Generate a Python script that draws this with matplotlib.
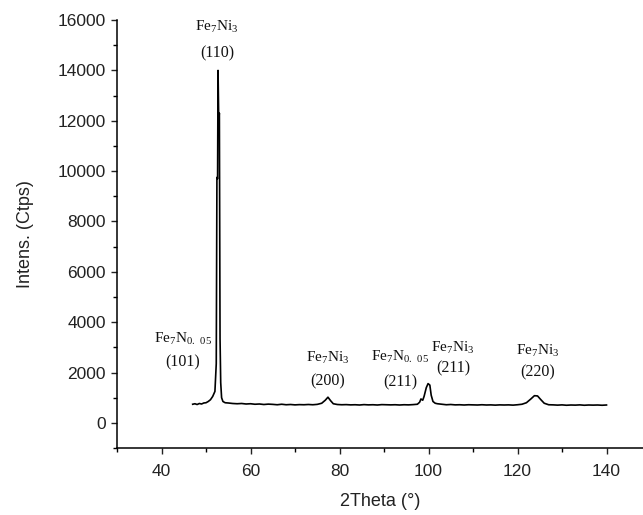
import numpy as np
import matplotlib
matplotlib.use("Agg")
import matplotlib.pyplot as plt
from matplotlib.ticker import MultipleLocator

plt.rcParams['font.family'] = ['Liberation Sans', 'DejaVu Sans']
plt.rcParams['mathtext.default'] = 'regular'

# XRD pattern
two_theta = [47.0, 47.5, 48.0, 48.5, 49.0, 49.5, 50.0, 50.5, 51.0, 51.5, 52.0,
             52.3, 52.45, 52.6, 52.7, 52.85, 53.0, 53.15, 53.3, 53.5, 53.8,
             54.3, 55.0, 56.0, 57.0, 58.0, 59.0, 60.0, 61.0, 62.0, 63.0, 64.0,
             65.0, 66.0, 67.0, 68.0, 69.0, 70.0, 71.0, 72.0, 73.0, 74.0, 75.0,
             76.0, 76.8, 77.4, 78.0, 78.6, 79.5, 80.5, 81.5, 82.5, 83.5, 84.5,
             85.5, 86.5, 87.5, 88.5, 89.5, 90.5, 91.5, 92.5, 93.5, 94.5, 95.5,
             96.5, 97.5, 98.0, 98.3, 98.7, 99.0, 99.5, 99.9, 100.3, 100.6,
             101.0, 101.5, 102.0, 103.0, 104.0, 105.0, 106.0, 107.0, 108.0,
             109.0, 110.0, 111.0, 112.0, 113.0, 114.0, 115.0, 116.0, 117.0,
             118.0, 119.0, 120.0, 121.0, 122.0, 123.0, 123.8, 124.5, 125.2,
             126.0, 127.0, 128.0, 129.0, 130.0, 131.0, 132.0, 133.0, 134.0,
             135.0, 136.0, 137.0, 138.0, 139.0, 140.0]
intens = [740, 760, 730, 770, 750, 790, 800, 850, 920, 1050, 1250,
          2350, 9750, 9700, 14000, 12100, 12300, 3350, 1600, 1000, 850,
          800, 790, 770, 760, 770, 750, 760, 740, 750, 730, 745,
          735, 720, 740, 720, 730, 715, 725, 720, 730, 720, 735,
          780, 900, 1020, 880, 760, 730, 720, 725, 715, 720, 710,
          725, 715, 720, 710, 725, 720, 715, 720, 710, 720, 715,
          725, 740, 820, 950, 900, 1050, 1400, 1560, 1500, 1100,
          850, 780, 760, 740, 720, 730, 715, 720, 710,
          720, 715, 710, 720, 710, 715, 705, 715, 710,
          715, 705, 720, 740, 800, 950, 1080, 1070, 930,
          780, 720, 715, 705, 715, 700, 710, 705, 715,
          700, 710, 705, 710, 700, 710]

# peak labels: (x, y first line, y second line, phase, hkl)
lab_x = [52.5, 44.8, 77.4, 93.6, 105.5, 124.6]
lab_y1 = [15720, 3340, 2590, 2630, 2985, 2865]
lab_y2 = [14690, 2390, 1630, 1590, 2150, 1990]
lab_phase = ['Fe$_{7}$Ni$_{3}$', 'Fe$_{7}$N$_{0.\\ 05}$', 'Fe$_{7}$Ni$_{3}$',
             'Fe$_{7}$N$_{0.\\ 05}$', 'Fe$_{7}$Ni$_{3}$', 'Fe$_{7}$Ni$_{3}$']
lab_hkl = ['(110)', '(101)', '(200)', '(211)', '(211)', '(220)']

fig = plt.figure(figsize=(6.43, 5.15), dpi=100)
ax = fig.add_axes([0.182, 0.130, 0.818, 0.831])
ax.plot(two_theta, intens, color='black', lw=1.2)

ax.set_xlim(30, 148.2)
ax.set_ylim(-1000, 16000)
ax.xaxis.set_minor_locator(MultipleLocator(10))
ax.yaxis.set_minor_locator(MultipleLocator(1000))
ax.set_xticks([40, 60, 80, 100, 120, 140])
ax.set_yticks(range(0, 16001, 2000))

for s in ['top', 'right']:
    ax.spines[s].set_visible(False)
for s in ['left', 'bottom']:
    ax.spines[s].set_linewidth(1.1)
ax.tick_params(which='major', direction='out', length=4.5, width=1.0,
               labelsize=12.5, colors='#222222')
ax.tick_params(axis='x', which='major', pad=7)
ax.tick_params(which='minor', direction='out', length=3, width=1.0)

ax.set_xlabel('2Theta (°)', fontsize=13, color='#222222', labelpad=10)
ax.set_ylabel('Intens. (Ctps)', fontsize=13, color='#222222', labelpad=17)

for x, y1, y2, p, h in zip(lab_x, lab_y1, lab_y2, lab_phase, lab_hkl):
    ax.text(x, y1, p, ha='center', va='center', fontsize=11,
            family='Liberation Serif', color='#111111')
    ax.text(x, y2, h, ha='center', va='center', fontsize=11.5,
            family='Liberation Serif', color='#111111')

fig.savefig('out.png', dpi=100)
